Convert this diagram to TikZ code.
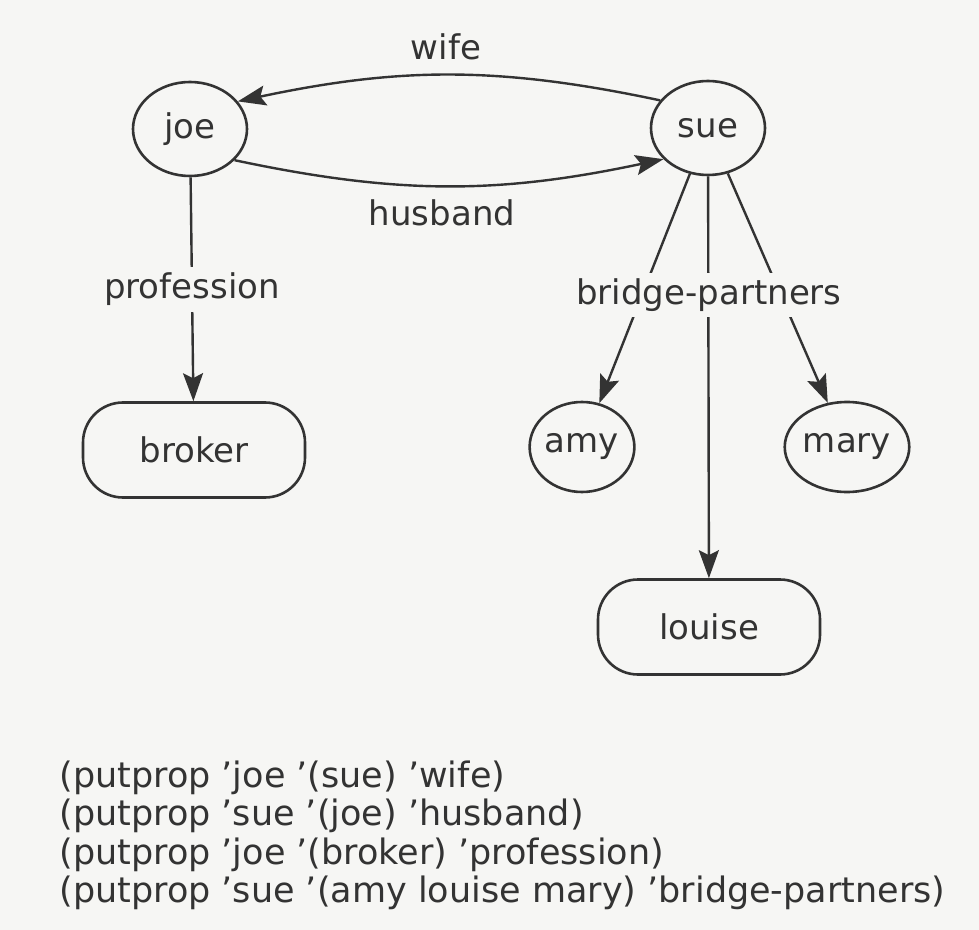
\documentclass[tikz,border=0pt]{standalone}
\usepackage{fontspec}
\setmainfont{DejaVu Sans}
\definecolor{ink}{HTML}{333333}
\definecolor{paper}{HTML}{F6F6F4}
\usepackage{tikz}
\usetikzlibrary{arrows.meta, shapes.geometric}

\begin{document}
\begin{tikzpicture}[
    x=0.5pt, y=-0.5pt,
    every node/.style={font=\fontsize{17}{19.25}\selectfont, text=ink},
    atom/.style={draw=ink, ellipse, line width=1.3pt, inner sep=0pt,
                 minimum width=57pt, minimum height=47pt},
    leaf/.style={draw=ink, rectangle, rounded corners=20pt, line width=1.3pt,
                 minimum width=111pt, minimum height=47.5pt},
    rel/.style={fill=paper, inner xsep=2pt, inner ysep=3pt},
    arrow/.style={-{Stealth[length=14pt, width=10pt, inset=2.5pt]}, draw=ink,
                  line width=1.2pt}
  ]
    % Page
    \fill[paper] (0,0) rectangle (979,930);
    \useasboundingbox (0,0) rectangle (979,930);

    % Atoms
    \node[atom] (joe) at (190,129) {joe};
    \node[atom] (sue) at (708,128) {sue};
    \node[leaf] (broker) at (194,450) {broker};
    \node[atom, minimum width=50pt, minimum height=45pt] (amy) at (582,447) {amy};
    \node[atom, minimum width=58.5pt, minimum height=45pt] (mary) at (847,447) {mary};
    \node[leaf] (louise) at (709,627) {louise};

    % Property links
    \draw[arrow] (sue.150) to[out=168, in=12] (joe.30);
    \draw[arrow] (joe.-35) to[out=-12, in=192] (sue.215);
    \node (wife) at (446,47) {wife};
    \node (husband) at (442,213) {husband};

    \draw[arrow] (joe) -- node[rel] (profession) {profession} (broker);

    \foreach \p in {amy,louise,mary}
      \draw[arrow] (sue) -- (\p);
    \node[rel] (partners) at (709,295) {bridge-partners};

    % Lisp forms
    \node[anchor=west, align=left, inner sep=0pt,
          font=\fontsize{17.5}{19.25}\selectfont] (forms) at (59,835.5)
      {(putprop ’joe ’(sue) ’wife)\\
       (putprop ’sue ’(joe) ’husband)\\
       (putprop ’joe ’(broker) ’profession)\\
       (putprop ’sue ’(amy louise mary) ’bridge-partners)};
  \end{tikzpicture}
\end{document}
